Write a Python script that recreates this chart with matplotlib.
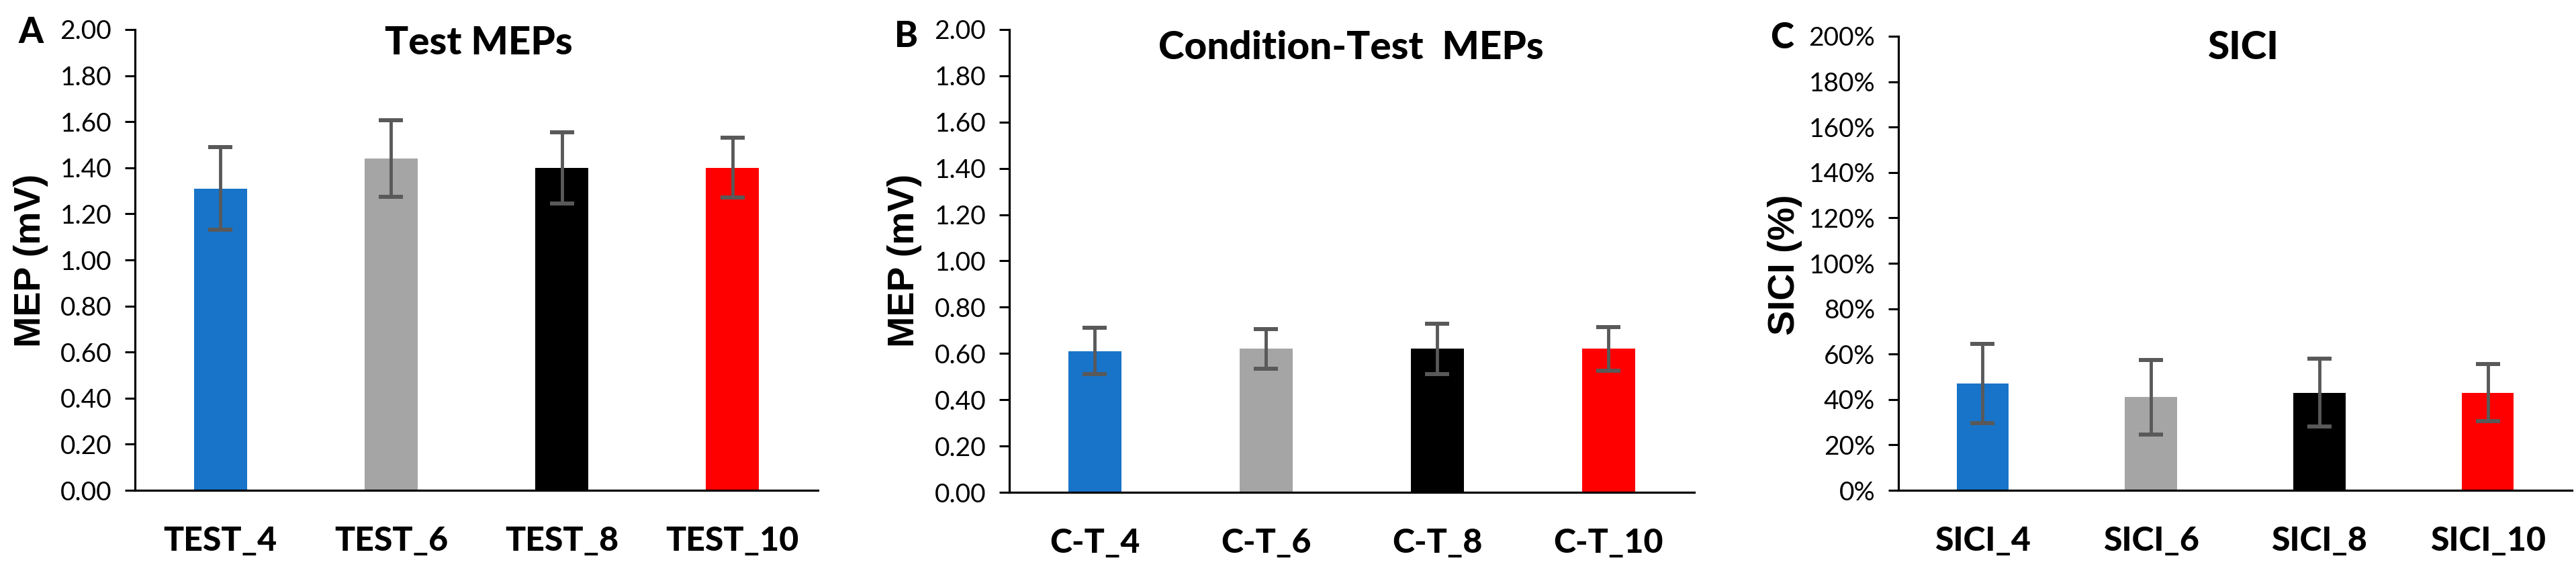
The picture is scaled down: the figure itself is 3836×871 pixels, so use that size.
import matplotlib
matplotlib.use("Agg")
import matplotlib.pyplot as plt
from matplotlib.ticker import FuncFormatter, MultipleLocator

# data
test_labels = ["TEST_4", "TEST_6", "TEST_8", "TEST_10"]
test_mean = [1.31, 1.44, 1.40, 1.40]
test_err = [0.18, 0.165, 0.155, 0.13]

ct_labels = ["C-T_4", "C-T_6", "C-T_8", "C-T_10"]
ct_mean = [0.61, 0.62, 0.62, 0.62]
ct_err = [0.10, 0.085, 0.11, 0.095]

sici_labels = ["SICI_4", "SICI_6", "SICI_8", "SICI_10"]
sici_mean = [47, 41, 43, 43]
sici_err = [17.5, 16.5, 15, 12.5]

COLORS = ["#1874C8", "#A5A5A5", "#000000", "#FF0000"]
ERR_COLOR = "#595959"

W, H = 3837, 871
NARROW = ["Lato", "DejaVu Sans"]
REG = ["Lato", "DejaVu Sans"]
WIDE = ["Liberation Sans", "DejaVu Sans"]
HEAVY = 900


def px_axes(fig, left, top, right, bottom):
    return fig.add_axes([left / W, (H - bottom) / H, (right - left) / W, (bottom - top) / H])


def draw_panel(ax, labels, mean, err, ymax, step, fmt):
    x = range(len(labels))
    ax.bar(x, mean, width=0.31, color=COLORS, zorder=2)
    ax.errorbar(x, mean, yerr=err, fmt="none", ecolor=ERR_COLOR,
                elinewidth=3.5, capsize=13, capthick=4.3, zorder=3)
    ax.set_xlim(-0.5, len(labels) - 0.5)
    ax.set_ylim(0, ymax)
    ax.yaxis.set_major_locator(MultipleLocator(step))
    ax.yaxis.set_major_formatter(FuncFormatter(fmt))
    ax.set_xticks(list(x))
    ax.set_xticklabels(labels, fontfamily=NARROW, fontweight=HEAVY, fontsize=36)
    for lab in ax.get_yticklabels():
        lab.set_fontfamily(REG)
        lab.set_fontsize(28)
    ax.tick_params(axis="x", length=0, pad=38)
    ax.tick_params(axis="y", direction="out", length=11, width=2.2, pad=14)
    for s in ("top", "right"):
        ax.spines[s].set_visible(False)
    for s in ("left", "bottom"):
        ax.spines[s].set_linewidth(2.3)
    ax.set_facecolor("none")


fig = plt.figure(figsize=(W / 100, H / 100), dpi=100)

axA = px_axes(fig, 201, 44, 1218, 730)
draw_panel(axA, test_labels, test_mean, test_err, 2.0, 0.2, lambda v, p: f"{v:.2f}")
axB = px_axes(fig, 1503, 44, 2523, 733)
draw_panel(axB, ct_labels, ct_mean, ct_err, 2.0, 0.2, lambda v, p: f"{v:.2f}")
axC = px_axes(fig, 2827, 54, 3830, 730)
draw_panel(axC, sici_labels, sici_mean, sici_err, 200, 20, lambda v, p: f"{v:.0f}%")

# titles
fig.text(713 / W, 1 - 81 / H, "Test MEPs", ha="center", va="baseline",
         fontfamily=NARROW, fontweight=HEAVY, fontsize=42)
fig.text(2012 / W, 1 - 88 / H, "Condition-Test  MEPs", ha="center", va="baseline",
         fontfamily=NARROW, fontweight=HEAVY, fontsize=42)
fig.text(3341 / W, 1 - 88 / H, "SICI", ha="center", va="baseline",
         fontfamily=NARROW, fontweight=HEAVY, fontsize=42)

# panel letters
for lx, ly, letter in [(46, 49, "A"), (1349, 54, "B"), (2654, 56, "C")]:
    fig.text(lx / W, 1 - ly / H, letter, ha="center", va="center",
             fontfamily=NARROW, fontweight=HEAVY, fontsize=38)

# y axis titles
for lx, ly, txt in [(46, 388, "MEP (mV)"), (1347, 388, "MEP (mV)"), (2658, 394, "SICI (%)")]:
    fig.text(lx / W, 1 - ly / H, txt, ha="center", va="center", rotation=90,
             fontfamily=WIDE, fontweight="bold", fontsize=40)

fig.savefig("out.png", dpi=100, facecolor="white")
